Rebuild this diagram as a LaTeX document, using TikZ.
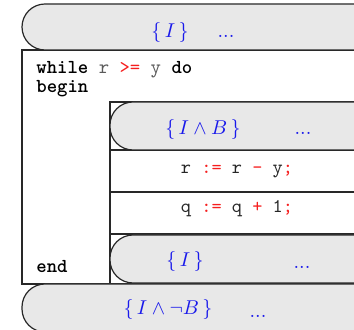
\documentclass[tikz,border=0pt]{standalone}
\usepackage{fontspec}
\usepackage{xcolor}
\usepackage{tikz}
\definecolor{pillgray}{RGB}{232,232,232}
\definecolor{edgegray}{RGB}{40,40,40}
\definecolor{codegray}{RGB}{90,90,90}
\definecolor{condblue}{RGB}{25,25,235}
\definecolor{opred}{RGB}{245,30,30}

\begin{document}
\begin{tikzpicture}[x=0.5pt, y=-0.5pt,
  pill/.style={draw=edgegray, fill=pillgray, rounded corners=11.5pt, line width=0.6pt},
  cell/.style={draw=edgegray, line width=0.6pt},
  cond/.style={text=condblue, font=\fontsize{10}{12}\selectfont, inner sep=0pt},
  dots/.style={text=condblue, font=\fontsize{10}{12}\selectfont, inner sep=0pt, anchor=base},
  code/.style={font=\ttfamily\fontsize{9.9}{11}\selectfont, inner sep=0pt, anchor=base west},
  stmt/.style={font=\ttfamily\fontsize{9.7}{11}\selectfont, inner sep=0pt, anchor=base, text=black!85}
]
  \useasboundingbox (0,0) rectangle (354,330);
  \clip (0,0) rectangle (354,330);

  % loop body frame
  \draw[cell] (22,50) rectangle (420,284);
  \draw[cell] (110,102) rectangle (420,284);
  \draw[cell] (110,150) -- (420,150);
  \draw[cell] (110,192) -- (420,192);
  \draw[cell] (110,234) -- (420,234);

  % assertions
  \draw[pill] (22,4) rectangle (440,50);
  \draw[pill] (110,102) rectangle (440,150);
  \draw[pill] (110,235) rectangle (440,283);
  \draw[pill] (22,284) rectangle (440,332);

  \node[cond] (pre) at (170,33) {$\{\,I\,\}$};
  \node[dots] (predots) at (226,38) {...};
  \node[cond] (guard) at (203,130) {$\{\,I\wedge B\,\}$};
  \node[dots] (guarddots) at (303,135) {...};
  \node[cond] (inv) at (185,262) {$\{\,I\,\}$};
  \node[dots] (invdots) at (302,269) {...};
  \node[cond] (post) at (168,310) {$\{\,I\wedge\neg B\,\}$};
  \node[dots] (postdots) at (258,318) {...};

  % code
  \node[code] (while) at (36,74) {\textbf{while} \textcolor{codegray}{r} \textcolor{opred}{>=} \textcolor{codegray}{y} \textbf{do}};
  \node[code] (begin) at (36,93) {\textbf{begin}};
  \node[code] (end) at (36,273) {\textbf{end}};
  \node[stmt] (subr) at (237,174) {r \textcolor{opred}{:=} r \textcolor{opred}{-} y\textcolor{opred}{;}};
  \node[stmt] (incq) at (237,213) {q \textcolor{opred}{:=} q \textcolor{opred}{+} 1\textcolor{opred}{;}};
\end{tikzpicture}
\end{document}
